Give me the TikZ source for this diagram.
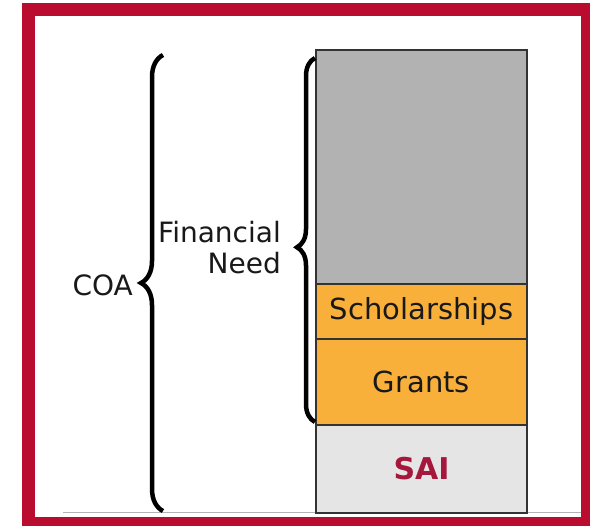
\documentclass[tikz,border=0pt]{standalone}
\usepackage{fontspec}
\setsansfont{DejaVu Sans}
\usetikzlibrary{positioning}
\usetikzlibrary{decorations.pathreplacing}
\definecolor{crimson}{HTML}{BA0C2F}
\definecolor{aidorange}{HTML}{F9B03B}
\definecolor{saired}{HTML}{A6173C}
\tikzset{
    barbox/.style = {rectangle, draw=black!80, line width=1.8pt, minimum width=211pt, inner sep=0pt, outer sep=0pt, font=\sffamily\fontsize{29}{34}\selectfont, text=black!90},
    gapbox/.style = {barbox, fill=black!30, minimum height=234pt},
    aidbox/.style = {barbox, fill=aidorange},
    saibox/.style = {barbox, fill=black!10, minimum height=88pt, text=saired, font=\sffamily\bfseries\fontsize{30}{34}\selectfont},
    bracen/.style = {decorate, decoration={brace, amplitude=#1}, line width=4.5pt, black},
    labeln/.style = {font=\sffamily\fontsize{28}{31}\selectfont, text=black!90, inner sep=0pt, align=right}
}
\begin{document}
\begin{tikzpicture}[x=1pt, y=-1pt]
  \useasboundingbox (0,0) rectangle (590,526);
  % frame
  \fill[crimson] (22,3) rectangle (590,526);
  \fill[white] (35,16) rectangle (581,517);
  \draw[black!30, line width=1pt] (63,513) -- (581,513);
  % the bar
  \node[gapbox, anchor=north west] (gap) at (316,50) {};
  \node[aidbox, minimum height=55pt, below=0pt of gap] (schol) {Scholarships};
  \node[aidbox, minimum height=86pt, below=0pt of schol] (grants) {Grants};
  \node[saibox, below=0pt of grants] (sai) {SAI};
  % braces
  \coordinate (coatop) at (163,55);
  \coordinate (coabot) at (163,511);
  \coordinate (needtop) at ([shift={(-1,8)}]gap.north west);
  \coordinate (needbot) at ([shift={(-1,-3)}]grants.south west);
  \draw[bracen=22pt] (coabot) -- (coatop);
  \draw[bracen=18pt, decoration={aspect=0.48}] (needbot) -- (needtop);
  \node[labeln, anchor=east] (coa) at (133,285) {COA};
  \node[labeln, anchor=east] (need) at (281,248) {Financial\\Need};
\end{tikzpicture}
\end{document}
